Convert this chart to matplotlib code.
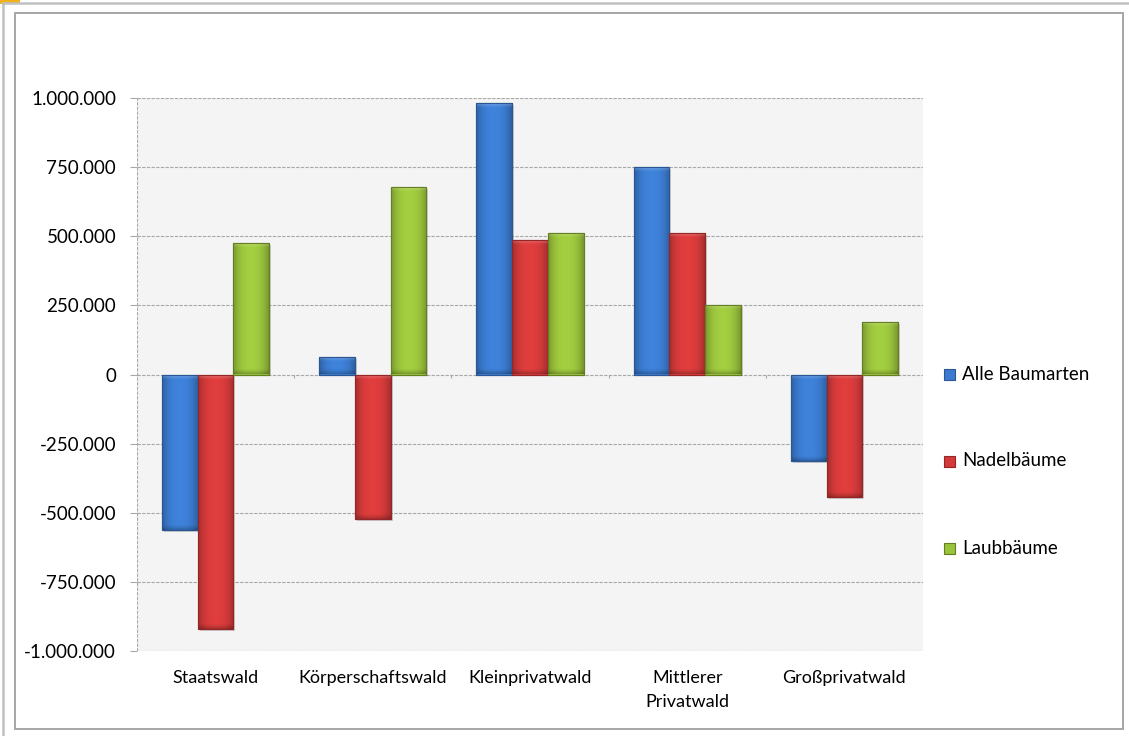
import numpy as np
import matplotlib.pyplot as plt
from matplotlib.patches import Rectangle
from matplotlib.colors import to_rgb
from matplotlib.ticker import FuncFormatter

# Veränderung des Holzvorrats nach Eigentumsart (m³)
kategorien = ["Staatswald", "Körperschaftswald", "Kleinprivatwald",
              "Mittlerer\nPrivatwald", "Großprivatwald"]
alle_baumarten = [-562000, 63000, 982000, 750000, -313000]
nadelbaeume = [-920000, -523000, 486000, 512000, -443000]
laubbaeume = [476000, 678000, 512000, 251000, 190000]

serien = ["Alle Baumarten", "Nadelbäume", "Laubbäume"]
farben = ["#3b7bcf", "#d43a3a", "#9ac33c"]
kanten = ["#2a5694", "#932626", "#637f22"]

plt.rcParams['font.family'] = ['Lato', 'DejaVu Sans']

W, H = 1129, 736
fig = plt.figure(figsize=(W / 100, H / 100), dpi=100)


def fx(px):
    return px / W


def fy(py):
    return 1 - py / H


# Rahmen
fig.patches.append(Rectangle((fx(15), fy(729)), fx(1123) - fx(15), fy(13) - fy(729),
                             transform=fig.transFigure, fill=False,
                             edgecolor="#a6a6a6", linewidth=1.4))
fig.add_artist(plt.Line2D([fx(2.5), fx(2.5)], [0, fy(3)], color="#c0c0c0", linewidth=1.8))
fig.add_artist(plt.Line2D([fx(2.5), 1], [fy(3), fy(3)], color="#c0c0c0", linewidth=1.8))
fig.patches.append(Rectangle((0, fy(3.5)), fx(20), 3.5 / H, transform=fig.transFigure,
                             facecolor="#f2b21b", edgecolor="none"))

ax = fig.add_axes([fx(137), fy(651), fx(923) - fx(137), fy(98) - fy(651)])
ax.set_facecolor("#f4f4f4")
ax.set_xlim(-0.5, 4.5)
ax.set_ylim(-1000000, 1000000)

for s in ax.spines.values():
    s.set_visible(False)

gitter = dict(color="#a8a8a8", linewidth=0.8, linestyle=(0, (3, 1.2)))
ax.set_yticks(np.arange(-1000000, 1000001, 250000))
ax.yaxis.grid(True, **gitter)
ax.set_axisbelow(True)
ax.axvline(-0.5, **gitter)
ax.tick_params(axis="y", length=5, width=0.8, color="#a8a8a8", pad=10, labelsize=13.5)
ax.yaxis.set_major_formatter(FuncFormatter(lambda v, p: f"{v:,.0f}".replace(",", ".")))

ax.set_xticks(range(len(kategorien)))
ax.set_xticklabels(kategorien, fontsize=13, linespacing=1.6, va="top")
ax.tick_params(axis="x", length=0, pad=14)

# kleine Teilstriche an der Nulllinie zwischen den Kategorien
grenzen = np.arange(0.5, len(kategorien) - 0.5, 1.0)
ax.vlines(grenzen, -14000, 0, color="#a8a8a8", linewidth=0.8)

breite = 0.227
versatz = [-breite, 0, breite]
werte = [alle_baumarten, nadelbaeume, laubbaeume]


def verlauf(farbe, hoehe):
    base = np.array(to_rgb(farbe))
    nx, ny = 60, 300
    t = np.linspace(0, 1, nx)
    prof = 1.06 - 0.28 * np.abs(2 * t - 1) ** 2.5
    img = np.ones((ny, nx, 3)) * base * prof[None, :, None]
    # Licht von oben: helle Oberkante, dunklere Unterkante
    fase = min(20000 / max(abs(hoehe), 1), 0.45)
    v = np.linspace(0, 1, ny)
    hell = np.clip(1 - v / fase, 0, 1) ** 1.5 * 0.35
    dunkel = np.clip(1 - (1 - v) / fase, 0, 1) ** 1.5 * 0.25
    img = img * (1 - hell[:, None, None]) + hell[:, None, None]
    img = img * (1 - dunkel[:, None, None])
    return np.clip(img, 0, 1)


for i, (name, w) in enumerate(zip(serien, werte)):
    x = np.arange(len(kategorien)) + versatz[i]
    # Schatten
    ax.bar(x + 0.012, w, breite, bottom=-7000, color="#000000", alpha=0.16,
           linewidth=0, zorder=2)
    balken = ax.bar(x, w, breite, color=farben[i], edgecolor=kanten[i],
                    linewidth=0.8, zorder=3, label=name)
    for b, val in zip(balken, w):
        x0, y0 = b.get_x(), b.get_y()
        bw, bh = b.get_width(), b.get_height()
        img = verlauf(farben[i], bh)
        y_lo, y_hi = min(y0, y0 + bh), max(y0, y0 + bh)
        im = ax.imshow(img, extent=[x0, x0 + bw, y_lo, y_hi], origin="upper",
                       aspect="auto", zorder=3.5, interpolation="bilinear")
        im.set_clip_path(b)
        rand = Rectangle((x0, y0), bw, bh, fill=False, edgecolor=kanten[i],
                         linewidth=0.8, zorder=4)
        ax.add_patch(rand)

ax.set_xlim(-0.5, 4.5)
ax.set_ylim(-1000000, 1000000)

# Legende
for i, (name, py) in enumerate(zip(serien, [374, 461, 548])):
    fig.patches.append(Rectangle((fx(944), fy(py + 5.5)), 11 / W, 11 / H,
                                 transform=fig.transFigure, facecolor=farben[i],
                                 edgecolor=kanten[i], linewidth=0.8))
    fig.text(fx(962), fy(py), name, fontsize=13.5, va="center", ha="left")

fig.savefig("out.png", dpi=100)
